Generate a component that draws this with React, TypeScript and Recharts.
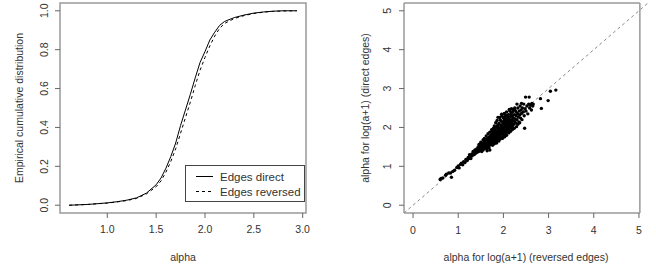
import React from "react"
import {
  LineChart,
  Line,
  ScatterChart,
  Scatter,
  XAxis,
  YAxis,
  ReferenceLine,
  ReferenceArea,
  Legend,
} from "recharts"

// ecdf curves
const alphaGrid = [
  0.61, 0.8, 1.0, 1.1, 1.2, 1.3, 1.4, 1.5, 1.55, 1.6, 1.65, 1.7, 1.75, 1.8, 1.85, 1.9, 1.95, 2.0, 2.05,
  2.1, 2.15, 2.2, 2.3, 2.4, 2.5, 2.6, 2.7, 2.8, 2.94,
]
const directCdf = [
  0, 0.004, 0.012, 0.018, 0.026, 0.038, 0.062, 0.105, 0.14, 0.19, 0.25, 0.32, 0.41, 0.49, 0.57, 0.655,
  0.735, 0.79, 0.85, 0.89, 0.925, 0.945, 0.965, 0.978, 0.988, 0.994, 0.998, 1.0, 1.0,
]
const reversedCdf = [
  0, 0.004, 0.011, 0.017, 0.024, 0.035, 0.058, 0.095, 0.125, 0.17, 0.225, 0.29, 0.37, 0.45, 0.53, 0.615,
  0.695, 0.76, 0.82, 0.87, 0.91, 0.935, 0.96, 0.975, 0.986, 0.993, 0.997, 0.999, 1.0,
]
const ecdfTicksX = [1.0, 1.5, 2.0, 2.5, 3.0]
const ecdfTicksY = [0, 0.2, 0.4, 0.6, 0.8, 1.0]

// [reversed edges, direct edges]
const alphaPairs = [
  [0.6, 0.66], [0.62, 0.69], [0.66, 0.7], [0.72, 0.77], [0.74, 0.8], [0.79, 0.83], [0.83, 0.83], [0.85, 0.72],
  [0.88, 0.87], [0.92, 0.9], [0.97, 0.97], [1.0, 1.01], [1.02, 0.96], [1.05, 1.05], [1.07, 1.08], [1.1, 1.04],
  [1.12, 1.12], [1.15, 1.1], [1.17, 1.18], [1.2, 1.15], [1.22, 1.23], [1.24, 1.2], [1.25, 1.3], [1.27, 1.25],
  [1.28, 1.2], [1.3, 1.32], [1.31, 1.27], [1.33, 1.38],
  [1.35, 1.3], [1.36, 1.35], [1.37, 1.42], [1.38, 1.33], [1.4, 1.39], [1.41, 1.45], [1.42, 1.36], [1.43, 1.41],
  [1.44, 1.5], [1.45, 1.38], [1.46, 1.44], [1.47, 1.52], [1.48, 1.4], [1.49, 1.47], [1.5, 1.55], [1.5, 1.43],
  [1.51, 1.5], [1.52, 1.58], [1.52, 1.38], [1.46, 1.56], [1.5, 1.62], [1.55, 1.68], [1.58, 1.72],
  [1.53, 1.46], [1.54, 1.53], [1.55, 1.6], [1.55, 1.42], [1.56, 1.49], [1.57, 1.56], [1.58, 1.63], [1.58, 1.45],
  [1.59, 1.52], [1.6, 1.58], [1.6, 1.67], [1.61, 1.5], [1.62, 1.55], [1.62, 1.62], [1.63, 1.7], [1.63, 1.46],
  [1.64, 1.58], [1.65, 1.65], [1.65, 1.53], [1.66, 1.73], [1.66, 1.6], [1.67, 1.5], [1.67, 1.68], [1.68, 1.57],
  [1.68, 1.63], [1.69, 1.76], [1.69, 1.54], [1.7, 1.66], [1.7, 1.42], [1.7, 1.6], [1.62, 1.78], [1.66, 1.84],
  [1.7, 1.88], [1.64, 1.4], [1.68, 1.48],
  [1.71, 1.72], [1.71, 1.56], [1.72, 1.8], [1.72, 1.64], [1.73, 1.69], [1.73, 1.58], [1.74, 1.75], [1.74, 1.62],
  [1.75, 1.85], [1.75, 1.67], [1.76, 1.72], [1.76, 1.6], [1.77, 1.79], [1.77, 1.66], [1.78, 1.9], [1.78, 1.7],
  [1.79, 1.63], [1.79, 1.76], [1.8, 1.83], [1.8, 1.68], [1.81, 1.95], [1.81, 1.73], [1.82, 1.62], [1.82, 1.79],
  [1.83, 1.86], [1.83, 1.7], [1.84, 1.76], [1.84, 2.0], [1.85, 1.66], [1.85, 1.82], [1.86, 1.9], [1.86, 1.74],
  [1.87, 1.8], [1.87, 2.05], [1.88, 1.7], [1.88, 1.86], [1.89, 1.95], [1.89, 1.78], [1.9, 1.84], [1.9, 1.65],
  [1.9, 2.1], [1.74, 1.94], [1.78, 1.98], [1.8, 2.04], [1.83, 2.12], [1.86, 2.18], [1.88, 2.26], [1.76, 1.54],
  [1.8, 1.58], [1.85, 1.6], [1.76, 1.88], [1.82, 1.92], [1.88, 2.0],
  [1.91, 1.9], [1.91, 1.74], [1.92, 1.98], [1.92, 1.82], [1.93, 1.88], [1.93, 2.2], [1.94, 1.77], [1.94, 1.94],
  [1.95, 2.03], [1.95, 1.85], [1.96, 1.91], [1.96, 2.34], [1.97, 1.72], [1.97, 1.98], [1.98, 2.08], [1.98, 1.84],
  [1.99, 1.94], [1.99, 2.14], [2.0, 1.78], [2.0, 2.0], [2.01, 1.88], [2.01, 2.1], [2.02, 2.2], [2.02, 1.95],
  [2.03, 1.82], [2.03, 2.05], [2.04, 2.28], [2.04, 1.92], [2.05, 2.0], [2.05, 2.14], [2.06, 1.86], [2.06, 2.08],
  [2.07, 2.4], [2.07, 1.96], [2.08, 2.18], [2.08, 2.03], [2.09, 1.9], [2.09, 2.12], [2.1, 2.24], [2.1, 1.98],
  [1.92, 2.26], [1.95, 2.16], [1.97, 2.3], [2.0, 2.25], [2.02, 2.36], [2.05, 2.32], [1.93, 1.7], [1.98, 1.72],
  [2.03, 1.76], [2.07, 1.8], [1.94, 2.06], [2.0, 2.12], [2.06, 2.22], [2.09, 2.3],
  [2.11, 2.06], [2.11, 2.33], [2.12, 2.15], [2.12, 1.94], [2.13, 2.02], [2.13, 2.22], [2.14, 2.1], [2.14, 2.42],
  [2.15, 1.98], [2.15, 2.17], [2.16, 2.28], [2.16, 2.06], [2.17, 2.13], [2.17, 2.36], [2.18, 2.0], [2.18, 2.2],
  [2.19, 2.1], [2.2, 2.3], [2.2, 2.04], [2.21, 2.17], [2.22, 2.45], [2.22, 2.24], [2.23, 2.08], [2.24, 2.33],
  [2.24, 2.16], [2.25, 2.5], [2.26, 2.22], [2.27, 2.12], [2.28, 2.3], [2.28, 2.4], [2.29, 2.02],
  [2.12, 1.86], [2.16, 1.9], [2.2, 1.95], [2.24, 1.98], [2.13, 2.46], [2.18, 2.48], [2.2, 2.4], [2.26, 2.44],
  [2.3, 2.2], [2.31, 2.36], [2.32, 2.5], [2.33, 2.27], [2.34, 2.14], [2.35, 2.42], [2.36, 2.32], [2.37, 2.55],
  [2.38, 2.24], [2.39, 2.45], [2.4, 2.36], [2.41, 2.2], [2.42, 2.5], [2.44, 2.4], [2.45, 2.6], [2.46, 2.3],
  [2.47, 1.98], [2.48, 2.48], [2.49, 2.78], [2.5, 2.42], [2.52, 2.55], [2.54, 2.35], [2.56, 2.6], [2.57, 2.78],
  [2.58, 2.5], [2.6, 2.57], [2.62, 2.45], [2.63, 2.62], [2.65, 2.55], [2.66, 2.6], [2.32, 2.08], [2.36, 2.12],
  [2.3, 2.6], [2.4, 2.62],
  [2.82, 2.74], [2.84, 2.49], [2.99, 2.69], [3.04, 2.93], [3.16, 2.96],
]
const scatterTicks = [0, 1, 2, 3, 4, 5]

const directRows = alphaGrid.map((a, i) => ({ alpha: a, f: directCdf[i] }))
const reversedRows = alphaGrid.map((a, i) => ({ alpha: a, f: reversedCdf[i] }))
const pairRows = alphaPairs.map(([x, y]) => ({ x, y }))

const FONT = "'Liberation Sans', Arial, sans-serif"
const TXT = "#333"
const BOX = "#999"
const TICK = "#666"

const VTick = (props: any) => {
  const { x, y, payload, digits } = props
  return (
    <text
      x={x}
      y={y}
      transform={`rotate(-90 ${x} ${y})`}
      textAnchor="middle"
      fontSize={10.5}
      fontFamily={FONT}
      fill={TXT}
    >
      {payload.value.toFixed(digits)}
    </text>
  )
}

const LegendBox = (props: any) => {
  const items = props.payload || []
  return (
    <div
      style={{
        border: "1px solid #444",
        width: 120,
        height: 37,
        background: "#fff",
        fontFamily: FONT,
        fontSize: 11.5,
        color: TXT,
        paddingTop: 3,
        boxSizing: "border-box",
      }}
    >
      {items.map((it: any, i: number) => (
        <div key={i} style={{ display: "flex", alignItems: "center", height: 15 }}>
          <svg width={34} height={15}>
            <line
              x1={10}
              x2={27}
              y1={7.5}
              y2={7.5}
              stroke="#000"
              strokeDasharray={it.payload?.strokeDasharray}
            />
          </svg>
          <span>{it.value}</span>
        </div>
      ))}
    </div>
  )
}

const Dot = (props: any) => <circle cx={props.cx} cy={props.cy} r={1.7} fill="#000" />

export default function App() {
  return (
    <div style={{ position: "absolute", left: 0, top: 0, width: 656, height: 269, background: "#fff" }}>
      <div style={{ position: "absolute", left: 0, top: 0 }}>
        <LineChart width={330} height={269} margin={{ top: 3, right: 24, left: 0, bottom: 0 }}>
          <XAxis
            type="number"
            dataKey="alpha"
            domain={[0.516, 3.034]}
            ticks={ecdfTicksX}
            tickFormatter={(v: number) => v.toFixed(1)}
            axisLine={false}
            tickLine={{ stroke: TICK }}
            tickSize={5}
            tickMargin={8}
            height={56}
            tick={{ fontSize: 10.5, fontFamily: FONT, fill: TXT }}
            label={{ value: "alpha", position: "center", dy: 16, fontSize: 10.5, fontFamily: FONT, fill: TXT }}
          />
          <YAxis
            type="number"
            dataKey="f"
            domain={[-0.04, 1.04]}
            ticks={ecdfTicksY}
            axisLine={false}
            tickLine={{ stroke: TICK }}
            tickSize={5}
            tickMargin={7}
            width={60}
            tick={<VTick digits={1} />}
            label={{
              value: "Empirical cumulative distribution",
              angle: -90,
              position: "insideLeft",
              offset: 19,
              style: { textAnchor: "middle", fontSize: 10.5, fontFamily: FONT, fill: TXT },
            }}
          />
          <ReferenceArea
            x1={0.516}
            x2={3.034}
            y1={-0.04}
            y2={1.04}
            fill="none"
            stroke={BOX}
            strokeWidth={1.5}
            ifOverflow="visible"
          />
          <Line
            data={directRows}
            dataKey="f"
            name="Edges direct"
            stroke="#000"
            strokeWidth={1}
            dot={false}
            isAnimationActive={false}
          />
          <Line
            data={reversedRows}
            dataKey="f"
            name="Edges reversed"
            stroke="#000"
            strokeWidth={1}
            strokeDasharray="3 3"
            dot={false}
            isAnimationActive={false}
          />
          <Legend
            layout="vertical"
            align="center"
            verticalAlign="middle"
            content={<LegendBox />}
            wrapperStyle={{ left: 185, top: 165, width: 120, height: 37 }}
          />
        </LineChart>
      </div>
      <div style={{ position: "absolute", left: 330, top: 0 }}>
        <ScatterChart width={326} height={269} margin={{ top: 3, right: 8, left: 0, bottom: 0 }}>
          <XAxis
            type="number"
            dataKey="x"
            domain={[-0.2, 5.2]}
            ticks={scatterTicks}
            axisLine={false}
            tickLine={{ stroke: TICK }}
            tickSize={5}
            tickMargin={9}
            height={56}
            tick={{ fontSize: 10.5, fontFamily: FONT, fill: TXT }}
            label={{
              value: "alpha for log(a+1) (reversed edges)",
              position: "center",
              dy: 16,
              fontSize: 10.5,
              fontFamily: FONT,
              fill: TXT,
            }}
          />
          <YAxis
            type="number"
            dataKey="y"
            domain={[-0.2, 5.2]}
            ticks={scatterTicks}
            axisLine={false}
            tickLine={{ stroke: TICK }}
            tickSize={5}
            tickMargin={8}
            width={74}
            tick={<VTick digits={0} />}
            label={{
              value: "alpha for log(a+1) (direct edges)",
              angle: -90,
              position: "insideLeft",
              offset: 35,
              style: { textAnchor: "middle", fontSize: 10.5, fontFamily: FONT, fill: TXT },
            }}
          />
          <ReferenceLine
            segment={[{ x: -0.2, y: -0.2 }, { x: 5.2, y: 5.2 }]}
            stroke="#888"
            strokeDasharray="3 3"
            ifOverflow="visible"
          />
          <ReferenceLine segment={[{ x: -0.2, y: 5.2 }, { x: 5.02, y: 5.2 }]} stroke={BOX} strokeWidth={1.5} ifOverflow="visible" />
          <ReferenceLine segment={[{ x: 5.02, y: -0.2 }, { x: 5.02, y: 5.2 }]} stroke={BOX} strokeWidth={1.5} ifOverflow="visible" />
          <ReferenceLine segment={[{ x: -0.2, y: -0.2 }, { x: 5.02, y: -0.2 }]} stroke={BOX} strokeWidth={1.5} ifOverflow="visible" />
          <ReferenceLine segment={[{ x: -0.2, y: -0.2 }, { x: -0.2, y: 5.2 }]} stroke={BOX} strokeWidth={1.5} ifOverflow="visible" />
          <Scatter data={pairRows} shape={<Dot />} isAnimationActive={false} />
        </ScatterChart>
      </div>
    </div>
  )
}
